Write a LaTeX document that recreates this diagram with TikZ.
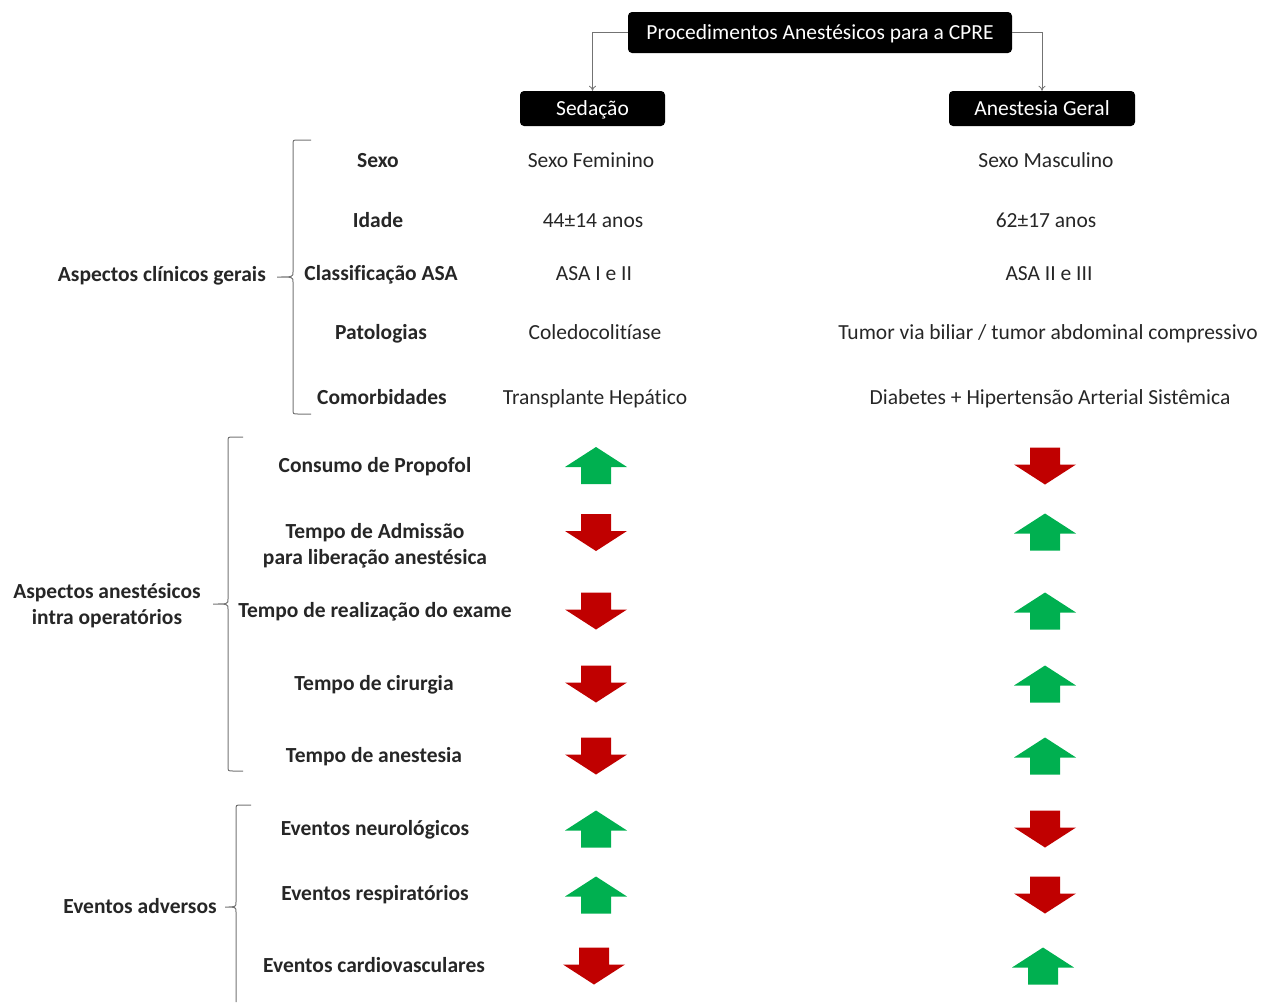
\documentclass[tikz,border=0pt]{standalone}
\usepackage{fontspec}
\setmainfont{Carlito}[Ligatures=NoCommon]
\usetikzlibrary{arrows.meta}
\definecolor{upgreen}{HTML}{00B050}
\definecolor{downred}{HTML}{C00000}
\definecolor{txt}{HTML}{262626}
\newcommand{\mybrace}[6]{% xv, xend, ytop, ybot, xtip, ymid
  \draw[brace] (#2,#3) -- ({#1+5},#3) .. controls (#1,#3) .. ({#1},{#3+5})
    -- (#1,{#6-5}) .. controls (#1,#6) .. (#5,#6)
    .. controls (#1,#6) .. (#1,{#6+5}) -- (#1,{#4-5}) .. controls (#1,#4) .. ({#1+5},#4) -- (#2,#4);}
\begin{document}
\begin{tikzpicture}[x=1pt,y=-1pt,
  hdr/.style={fill=black, text=white, rounded corners=4pt, font=\fontsize{21.5}{26}\selectfont, inner sep=0pt, text height=13.85pt, text depth=0pt},
  lbl/.style={font=\fontsize{21.5}{26}\selectfont\bfseries, text=txt, align=center, text height=13.85pt, text depth=0pt, inner sep=0pt},
  val/.style={font=\fontsize{21.5}{26}\selectfont, text=txt, text height=13.85pt, text depth=0pt, inner sep=0pt},
  conn/.style={draw=black!55, line width=0.8pt, -{To[length=5pt,width=7pt]}},
  brace/.style={draw=black!55, line width=1pt},
  uparrow/.pic={\fill[upgreen] (0,-18.5) -- (31,1.5) -- (15,1.5) -- (15,18.5) -- (-15,18.5) -- (-15,1.5) -- (-31,1.5) -- cycle;},
  downarrow/.pic={\fill[downred] (0,18.5) -- (31,-1.5) -- (15,-1.5) -- (15,-18.5) -- (-15,-18.5) -- (-15,-1.5) -- (-31,-1.5) -- cycle;}
]
\useasboundingbox (0,0) rectangle (1274,1002);

% header boxes
\node[hdr, minimum width=384pt, minimum height=41pt] (top) at (820,32.5) {Procedimentos Anestésicos para a CPRE};
\node[hdr, minimum width=145pt, minimum height=35pt] (sed) at (592.5,108.5) {Sedação};
\node[hdr, minimum width=186pt, minimum height=35pt] (ag) at (1042,108.5) {Anestesia Geral};
\draw[conn] (top.west) -| (sed.north);
\draw[conn] (top.east) -| (ag.north);

% braces
\mybrace{293}{311}{140}{414}{277}{277}
\mybrace{228}{243}{437}{771}{213}{604}
\draw[brace] (251,805) -- (241,805) .. controls (236,805) .. (236,810) -- (236,902)
  .. controls (236,907) .. (225,907) .. controls (236,907) .. (236,912) -- (236,1002);

% group labels
\node[lbl, anchor=east] (g1) at (266,275) {Aspectos clínicos gerais};
\node[lbl, text height=, text depth=] (g2) at (107,606) {Aspectos anestésicos\\intra operatórios};
\node[lbl] (g3) at (140,907) {Eventos adversos};

% clinical rows
\node[lbl] (r1) at (378,161) {Sexo};
\node[lbl] (r2) at (378,221) {Idade};
\node[lbl] (r3) at (381,274) {Classificação ASA};
\node[lbl] (r4) at (381,333) {Patologias};
\node[lbl] (r5) at (382,398) {Comorbidades};

\node[val] (s1) at (591,161) {Sexo Feminino};
\node[val] (s2) at (593,221) {44±14 anos};
\node[val] (s3) at (594,274) {ASA I e II};
\node[val] (s4) at (595,333) {Coledocolitíase};
\node[val] (s5) at (595,398) {Transplante Hepático};

\node[val] (a1) at (1046,161) {Sexo Masculino};
\node[val] (a2) at (1046,221) {62±17 anos};
\node[val] (a3) at (1049,274) {ASA II e III};
\node[val] (a4) at (1048,333) {Tumor via biliar / tumor abdominal compressivo};
\node[val] (a5) at (1050,398) {Diabetes + Hipertensão Arterial Sistêmica};

% intra-operative rows
\node[lbl] (i1) at (375,466) {Consumo de Propofol};
\node[lbl, text height=, text depth=] (i2) at (375,546) {Tempo de Admissão\\para liberação anestésica};
\node[lbl] (i3) at (375,611) {Tempo de realização do exame};
\node[lbl] (i4) at (374,684) {Tempo de cirurgia};
\node[lbl] (i5) at (374,756) {Tempo de anestesia};

% adverse events rows
\node[lbl] (e1) at (375,829) {Eventos neurológicos};
\node[lbl] (e2) at (375,894) {Eventos respiratórios};
\node[lbl] (e3) at (374,966) {Eventos cardiovasculares};

% arrows
\pic at (596,465.5) {uparrow};
\pic at (1045,466) {downarrow};
\pic at (596,532.5) {downarrow};
\pic at (1045,532) {uparrow};
\pic at (596,611) {downarrow};
\pic at (1045,611) {uparrow};
\pic at (596,684) {downarrow};
\pic at (1045,684) {uparrow};
\pic at (596,756) {downarrow};
\pic at (1045,756) {uparrow};
\pic at (596,829) {uparrow};
\pic at (1045,829) {downarrow};
\pic at (596,895) {uparrow};
\pic at (1045,895) {downarrow};
\pic at (594,966) {downarrow};
\pic at (1043,966) {uparrow};
\end{tikzpicture}
\end{document}
